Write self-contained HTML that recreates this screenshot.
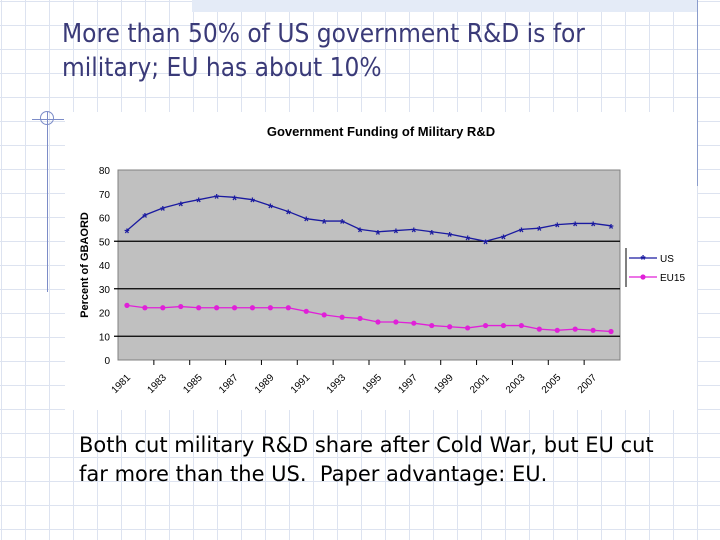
<!DOCTYPE html>
<html><head><meta charset="utf-8"><style>
body{margin:0;width:720px;height:540px;overflow:hidden;background:#fff;font-family:"Liberation Sans",sans-serif;position:relative}
.grid{position:absolute;left:0;top:0;width:720px;height:540px;background-image:linear-gradient(to right,#dde3f0 1px,transparent 1px),linear-gradient(to bottom,#dde3f0 1px,transparent 1px);background-size:24px 24px;background-position:1px 1px}
</style></head><body>
<div class="grid"></div>
<div style="position:absolute;left:192px;top:0;width:505px;height:12px;background:#e4ebf7"></div>
<div style="position:absolute;left:697px;top:0;width:1px;height:186px;background:#8a9ccc"></div>
<div style="position:absolute;left:47px;top:112px;width:1px;height:180px;background:#7c8cc8"></div>
<div style="position:absolute;left:32px;top:119px;width:32px;height:1px;background:#7c8cc8"></div>
<div style="position:absolute;left:40px;top:111px;width:12px;height:12px;border:1px solid #7c8cc8;border-radius:50%"></div>
<div style="position:absolute;left:62px;top:17px;font-size:26px;line-height:34px;color:#3a3a78;font-family:'DejaVu Sans Condensed','Liberation Sans',sans-serif;">More than 50% of US government R&amp;D is for<br>military; EU has about 10%</div>
<div style="position:absolute;left:79px;top:431px;font-size:21px;line-height:29px;color:#000;font-family:'DejaVu Sans','Liberation Sans',sans-serif;">Both cut military R&amp;D share after Cold War, but EU cut<br>far more than the US.&nbsp; Paper advantage: EU.</div>
<svg id="chart" style="position:absolute;left:0;top:0" width="720" height="540"></svg>
<script>
const years=[1981,1982,1983,1984,1985,1986,1987,1988,1989,1990,1991,1992,1993,1994,1995,1996,1997,1998,1999,2000,2001,2002,2003,2004,2005,2006,2007,2008];
const usValues=[54.5,61,64,66,67.5,69,68.5,67.5,65,62.5,59.5,58.5,58.5,55,54,54.5,55,54,53,51.5,50,52,55,55.5,57,57.5,57.5,56.5];
const euValues=[23,22,22,22.5,22,22,22,22,22,22,20.5,19,18,17.5,16,16,15.5,14.5,14,13.5,14.5,14.5,14.5,13,12.5,13,12.5,12];
const yTicks=[0,10,20,30,40,50,60,70,80];
const gridValues=[10,30,50];
const NS="http://www.w3.org/2000/svg";
const svg=document.getElementById('chart');
const PL=118,PR=620,PT=170,PB=360,YMAX=80;
const bw=(PR-PL)/years.length;
function xPos(i){return PL+bw*(i+0.5);}
function yPos(v){return PB-(v/YMAX)*(PB-PT);}
function mk(tag,attrs,parent){const e=document.createElementNS(NS,tag);for(const k in attrs)e.setAttribute(k,attrs[k]);(parent||svg).appendChild(e);return e;}
let e;
e=mk('rect',{x:65,y:112,width:632,height:298,fill:'#fff'});


e=mk('text',{x:381,y:136,'font-size':13,'font-weight':'bold','text-anchor':'middle','font-family':'Liberation Sans, sans-serif'});e.textContent='Government Funding of Military R&D';


e=mk('rect',{x:PL,y:PT,width:PR-PL,height:PB-PT,fill:'#c0c0c0',stroke:'#808080','stroke-width':1});


gridValues.forEach(v=>{e=mk('line',{x1:PL-4,x2:PR,y1:yPos(v),y2:yPos(v),stroke:'#000','stroke-width':1.2});

});
yTicks.forEach(v=>{e=mk('text',{x:110,y:yPos(v)+4,'font-size':10,'text-anchor':'end'});e.textContent=v;

});
e=mk('text',{x:0,y:0,'font-size':11,'font-weight':'bold','text-anchor':'middle',transform:'translate(88,265) rotate(-90)'});e.textContent='Percent of GBAORD';


years.forEach((y,i)=>{
 if(i%2===0){
  const tx=PL+bw*(i+1);
  if(i>0){e=mk('line',{x1:tx-bw,x2:tx-bw,y1:PB,y2:PB+5,stroke:'#000'});
  
  }
  const lx=xPos(i)+4,ly=PB+18;
  e=mk('text',{x:lx,y:ly,'font-size':10,'text-anchor':'end',transform:`rotate(-45 ${lx} ${ly})`});e.textContent=y;
  
  
 }
});
function series(vals,color,name){
 const g=mk('g',{});
 
 
 mk('polyline',{points:vals.map((v,i)=>xPos(i)+','+yPos(v)).join(' '),fill:'none',stroke:color,'stroke-width':1.3},g);
 vals.forEach((v,i)=>{
  const x=xPos(i),y=yPos(v);
  let m;
  if(name==='us'){m=mk('text',{x:x,y:y+7,'font-size':13,'font-weight':'bold','text-anchor':'middle',fill:color},g);m.textContent='*';}
  else{m=mk('circle',{cx:x,cy:y,r:2.6,fill:color},g);}
  
  
 });
}
series(usValues,'#1a1aa0','us');
series(euValues,'#e020d8','eu15');
e=mk('line',{x1:626,x2:626,y1:248,y2:287,stroke:'#000'});


e=mk('g',{});


mk('line',{x1:629,x2:657,y1:258,y2:258,stroke:'#1a1aa0','stroke-width':1.3},e);
let t=mk('text',{x:643,y:264,'font-size':13,'font-weight':'bold','text-anchor':'middle',fill:'#1a1aa0'},e);t.textContent='*';
t=mk('text',{x:660,y:262,'font-size':10},e);t.textContent='US';
e=mk('g',{});


mk('line',{x1:629,x2:657,y1:277,y2:277,stroke:'#e020d8','stroke-width':1.3},e);
mk('circle',{cx:643,cy:277,r:2.6,fill:'#e020d8'},e);
t=mk('text',{x:660,y:281,'font-size':10},e);t.textContent='EU15';
</script>
</body></html>
